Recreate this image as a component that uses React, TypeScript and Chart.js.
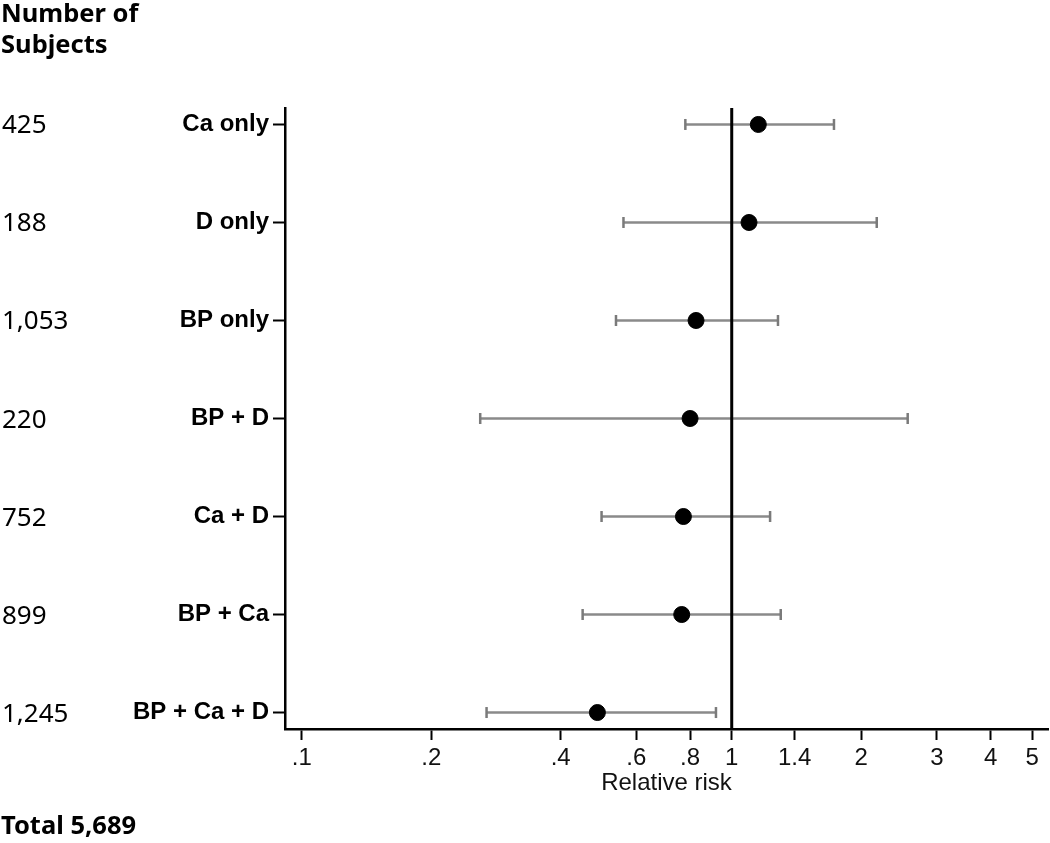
import React, { useEffect, useRef } from "react";
import { Chart, registerables } from "chart.js";

Chart.register(...registerables);

const categories = ["Ca only", "D only", "BP only", "BP + D", "Ca + D", "BP + Ca", "BP + Ca + D"];
const subjects = ["425", "188", "1,053", "220", "752", "899", "1,245"];
const estimates = [1.153, 1.097, 0.826, 0.8, 0.772, 0.765, 0.487];
const lowerCI = [0.78, 0.56, 0.538, 0.26, 0.498, 0.45, 0.269];
const upperCI = [1.729, 2.174, 1.281, 2.566, 1.228, 1.3, 0.919];
const xTickValues = [0.1, 0.2, 0.4, 0.6, 0.8, 1, 1.4, 2, 3, 4, 5];
const headerLines = ["Number of", "Subjects"];
const totalLabel = "Total 5,689";
const xTitle = "Relative risk";
const referenceValue = 1;

const X_MIN = 0.0914;
const X_MAX = 5.44;
const Y_MIN = -0.168;
const Y_MAX = 6.168;

function fmtTick(v: number): string {
  const s = String(v);
  return v < 1 ? s.replace(/^0\./, ".") : s;
}

const zeroPadding = () => ({ left: 0, top: 0, right: 0, bottom: 0 });

const sidePlugin = {
  id: "sideText",
  afterDraw(chart: any) {
    const ctx = chart.ctx;
    const y = chart.scales.y;
    ctx.save();
    ctx.fillStyle = "#000";
    ctx.textAlign = "left";
    ctx.textBaseline = "alphabetic";
    ctx.font = 'bold 25.5px "Noto Sans"';
    ctx.fillText(headerLines[0], 1, 22);
    ctx.fillText(headerLines[1], 1, 53);
    ctx.fillText(totalLabel, 1, 834);
    ctx.font = '26px "Noto Sans"';
    subjects.forEach((s, i) => {
      ctx.fillText(s, 2, y.getPixelForValue(i) + 9);
    });
    ctx.restore();
  },
};

export default function App() {
  const ref = useRef<HTMLCanvasElement>(null);
  useEffect(() => {
    const canvas = ref.current;
    if (!canvas) return;
    const ciSets = categories.map((c, i) => ({
      label: c + " CI",
      data: [
        { x: lowerCI[i], y: i },
        { x: upperCI[i], y: i },
      ],
      showLine: true,
      borderColor: "#8a8a8a",
      borderWidth: 2.5,
      pointStyle: "line",
      rotation: 90,
      pointRadius: 5.5,
      pointBorderWidth: 2.5,
      pointBorderColor: "#7a7a7a",
      pointBackgroundColor: "#7a7a7a",
      order: 3,
    }));
    const chart = new Chart(canvas, {
      type: "scatter",
      data: {
        datasets: [
          ...ciSets,
          {
            label: "ref",
            data: [
              { x: referenceValue, y: Y_MIN },
              { x: referenceValue, y: Y_MAX },
            ],
            showLine: true,
            borderColor: "#000",
            borderWidth: 3,
            pointRadius: 0,
            order: 2,
          },
          {
            label: "estimate",
            data: estimates.map((v, i) => ({ x: v, y: i })),
            pointRadius: 8,
            pointBackgroundColor: "#000",
            pointBorderColor: "#000",
            pointBorderWidth: 1,
            order: 1,
          },
        ] as any,
      },
      options: {
        responsive: false,
        animation: false,
        devicePixelRatio: 1,
        layout: { autoPadding: false, padding: { left: 0, top: 108, right: 2, bottom: 45 } },
        plugins: { legend: { display: false }, tooltip: { enabled: false } },
        scales: {
          x: {
            type: "logarithmic",
            min: X_MIN,
            max: X_MAX,
            afterBuildTicks: (s: any) => {
              s.ticks = xTickValues.map((v) => ({ value: v }));
            },
            afterFit: (s: any) => {
              s.height = 69;
              s.paddingLeft = 0;
              s.paddingRight = 0;
              s.getPadding = zeroPadding;
            },
            ticks: {
              autoSkip: false,
              maxRotation: 0,
              padding: 4,
              color: "#111",
              font: { family: '"Liberation Sans", Arial', size: 24 },
              callback: (v: any) => fmtTick(Number(v)),
            },
            grid: {
              drawOnChartArea: false,
              drawTicks: true,
              tickLength: 11,
              tickColor: "#000",
              tickWidth: 2,
              color: "#000",
            },
            border: { display: true, color: "#000", width: 2.5 },
            title: {
              display: true,
              text: xTitle,
              color: "#111",
              padding: 0,
              font: { family: '"Liberation Sans", Arial', size: 24 },
            },
          },
          y: {
            type: "linear",
            reverse: true,
            min: Y_MIN,
            max: Y_MAX,
            afterBuildTicks: (s: any) => {
              s.ticks = categories.map((_, i) => ({ value: i }));
            },
            afterFit: (s: any) => {
              s.width = 285;
              s.getPadding = zeroPadding;
            },
            ticks: {
              autoSkip: false,
              padding: 4,
              color: "#000",
              font: { family: '"Liberation Sans", Arial', size: 24, weight: "bold" },
              callback: (v: any) => categories[Math.round(Number(v))] ?? "",
            },
            grid: {
              drawOnChartArea: false,
              drawTicks: true,
              tickLength: 12,
              tickColor: "#000",
              tickWidth: 2,
              color: "#000",
            },
            border: { display: true, color: "#000", width: 2.5 },
          },
        },
      },
      plugins: [sidePlugin],
    } as any);
    return () => chart.destroy();
  }, []);
  return (
    <div style={{ position: "absolute", left: 0, top: 0, width: 1050, height: 843, background: "#fff" }}>
      <canvas ref={ref} width={1050} height={843} style={{ width: 1050, height: 843, display: "block" }} />
    </div>
  );
}
